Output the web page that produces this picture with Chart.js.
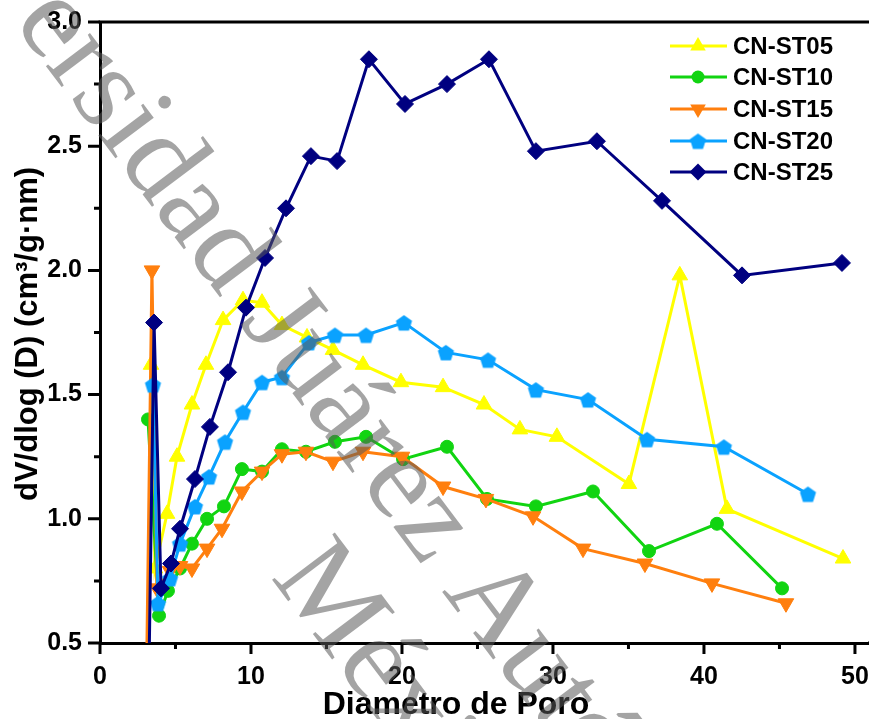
<!DOCTYPE html>
<html>
<head>
<meta charset="utf-8">
<script src="https://cdn.jsdelivr.net/npm/chart.js"></script>
<style>
    html, body { margin: 0; padding: 0; background: #fff; }
</style>
</head>
<body>
<canvas id="poreChart" width="869" height="719"></canvas>
<script>
// Data (pore diameter vs dV/dlog(D))
const seriesNames = ["CN-ST05", "CN-ST10", "CN-ST15", "CN-ST20", "CN-ST25"];
const seriesColors = ["#ffff00", "#11d411", "#ff7f0e", "#0aa2ff", "#000080"];

const st05X = [3.38, 3.64, 4.44, 5.10, 6.09, 7.02, 8.15, 9.47, 10.73, 12.05, 13.71, 15.43, 17.42, 19.93, 22.72, 25.43, 27.81, 30.26, 35.03, 38.40, 41.52, 49.21];
const st05Y = [1.62, 0.80, 1.02, 1.25, 1.46, 1.62, 1.80, 1.88, 1.87, 1.78, 1.73, 1.68, 1.62, 1.55, 1.53, 1.46, 1.36, 1.33, 1.14, 1.98, 1.04, 0.84];

const st10X = [3.18, 3.91, 4.50, 5.30, 6.09, 7.09, 8.21, 9.40, 10.73, 12.05, 13.64, 15.56, 17.62, 20.07, 22.98, 25.63, 28.87, 32.65, 36.36, 40.86, 45.17];
const st10Y = [1.40, 0.61, 0.71, 0.80, 0.90, 1.00, 1.05, 1.20, 1.19, 1.28, 1.27, 1.31, 1.33, 1.24, 1.29, 1.08, 1.05, 1.11, 0.87, 0.98, 0.72];

const st15X = [3.00, 3.44, 3.77, 4.64, 5.30, 6.09, 7.09, 8.08, 9.40, 10.73, 12.05, 13.64, 15.43, 17.42, 20.00, 22.72, 25.56, 28.68, 31.99, 36.09, 40.53, 45.43];
const st15Y = [0.00, 2.00, 0.72, 0.79, 0.81, 0.80, 0.88, 0.96, 1.11, 1.19, 1.26, 1.27, 1.23, 1.27, 1.25, 1.13, 1.08, 1.01, 0.88, 0.82, 0.74, 0.66];

const st20X = [3.51, 3.84, 4.64, 5.30, 6.29, 7.22, 8.28, 9.47, 10.73, 12.05, 13.84, 15.56, 17.62, 20.13, 22.91, 25.70, 28.87, 32.32, 36.23, 41.32, 46.89];
const st20Y = [1.54, 0.66, 0.76, 0.90, 1.05, 1.17, 1.31, 1.43, 1.55, 1.57, 1.71, 1.74, 1.74, 1.79, 1.67, 1.64, 1.52, 1.48, 1.32, 1.29, 1.10];

const st25X = [3.15, 3.58, 4.04, 4.70, 5.30, 6.29, 7.28, 8.48, 9.67, 10.93, 12.32, 13.97, 15.70, 17.81, 20.20, 22.98, 25.76, 28.87, 32.91, 37.22, 42.52, 49.14];
const st25Y = [0.00, 1.79, 0.72, 0.82, 0.96, 1.16, 1.37, 1.59, 1.85, 2.05, 2.25, 2.46, 2.44, 2.85, 2.67, 2.75, 2.85, 2.48, 2.52, 2.28, 1.98, 2.03];

// Axis ticks
const xTickValues = [0, 10, 20, 30, 40, 50];
const xMinorValues = [5, 15, 25, 35, 45];
const yTickValues = [0.5, 1.0, 1.5, 2.0, 2.5, 3.0];
const yMinorValues = [0.75, 1.25, 1.75, 2.25, 2.75];

const xTitle = "Diametro de Poro";
const yTitle = "dV/dlog (D) (cm³/g·nm)";
const watermarkLines = ["Universidad Juárez Autónoma de Tabasco", "México"];

const FONT = 'Arial, "Liberation Sans", sans-serif';

// pentagon marker (no built-in style for it)
function makePentagon(color, r) {
    const c = document.createElement("canvas");
    const size = Math.ceil(r * 2 + 2);
    c.width = size;
    c.height = size;
    const g = c.getContext("2d");
    g.fillStyle = color;
    g.beginPath();
    for (let i = 0; i < 5; i++) {
        const a = -Math.PI / 2 + i * 2 * Math.PI / 5;
        const px = size / 2 + r * Math.cos(a);
        const py = size / 2 + 1 + r * Math.sin(a);
        if (i === 0) g.moveTo(px, py); else g.lineTo(px, py);
    }
    g.closePath();
    g.fill();
    return c;
}

const pentagon = makePentagon(seriesColors[3], 8.5);

const markers = [
    { style: "triangle", rotation: 0, radius: 9 },
    { style: "circle", rotation: 0, radius: 6.5 },
    { style: "triangle", rotation: 180, radius: 9 },
    { style: pentagon, rotation: 0, radius: 8.5 },
    { style: "rectRot", rotation: 0, radius: 8.5 },
];

const allX = [st05X, st10X, st15X, st20X, st25X];
const allY = [st05Y, st10Y, st15Y, st20Y, st25Y];

const datasets = seriesNames.map((name, i) => ({
    label: name,
    data: allX[i].map((x, j) => ({ x: x, y: allY[i][j] })),
    borderColor: seriesColors[i],
    backgroundColor: seriesColors[i],
    borderWidth: 3,
    pointStyle: markers[i].style,
    pointRotation: markers[i].rotation,
    pointRadius: markers[i].radius,
    pointBorderWidth: 1,
    pointBorderColor: seriesColors[i],
    pointBackgroundColor: seriesColors[i],
    tension: 0,
    order: 5 - i, // later series on top
}));

// draw a legend marker by hand
function drawMarker(ctx, i, x, y) {
    const m = markers[i];
    ctx.fillStyle = seriesColors[i];
    ctx.beginPath();
    if (m.style === "circle") {
        ctx.arc(x, y, m.radius, 0, Math.PI * 2);
    } else if (m.style === "triangle") {
        const dir = m.rotation === 180 ? -1 : 1;
        for (let k = 0; k < 3; k++) {
            const a = k * 2 * Math.PI / 3;
            const px = x + Math.sin(a) * m.radius;
            const py = y - dir * Math.cos(a) * m.radius;
            if (k === 0) ctx.moveTo(px, py); else ctx.lineTo(px, py);
        }
    } else if (m.style === "rectRot") {
        ctx.moveTo(x, y - m.radius);
        ctx.lineTo(x + m.radius, y);
        ctx.lineTo(x, y + m.radius);
        ctx.lineTo(x - m.radius, y);
    } else {
        ctx.drawImage(m.style, x - m.style.width / 2, y - m.style.height / 2);
        return;
    }
    ctx.closePath();
    ctx.fill();
}

const decorations = {
    id: "decorations",
    afterDraw(chart) {
        const ctx = chart.ctx;
        const area = chart.chartArea;
        const xs = chart.scales.x;
        const ys = chart.scales.y;
        ctx.save();

        // top frame line, bottom axis runs to the edge
        ctx.strokeStyle = "#000";
        ctx.lineWidth = 3;
        ctx.beginPath();
        ctx.moveTo(area.left - 1.5, area.top);
        ctx.lineTo(chart.width, area.top);
        ctx.moveTo(area.right - 1, area.bottom);
        ctx.lineTo(chart.width, area.bottom);
        ctx.stroke();

        // tick marks
        ctx.beginPath();
        xTickValues.forEach(v => {
            const px = xs.getPixelForValue(v);
            ctx.moveTo(px, area.bottom);
            ctx.lineTo(px, area.bottom + 11);
        });
        xMinorValues.forEach(v => {
            const px = xs.getPixelForValue(v);
            ctx.moveTo(px, area.bottom);
            ctx.lineTo(px, area.bottom + 6);
        });
        yTickValues.forEach(v => {
            const py = ys.getPixelForValue(v);
            ctx.moveTo(area.left, py);
            ctx.lineTo(area.left - 12, py);
        });
        yMinorValues.forEach(v => {
            const py = ys.getPixelForValue(v);
            ctx.moveTo(area.left, py);
            ctx.lineTo(area.left - 6, py);
        });
        ctx.stroke();

        // axis titles
        ctx.fillStyle = "#000";
        ctx.font = "bold 32px " + FONT;
        ctx.textAlign = "center";
        ctx.textBaseline = "alphabetic";
        ctx.fillText(xTitle, 456, 714);

        ctx.save();
        ctx.translate(37, 334);
        ctx.rotate(-Math.PI / 2);
        ctx.font = "bold 31px " + FONT;
        ctx.fillText(yTitle, 0, 0);
        ctx.restore();

        // legend
        const rows = [46, 77, 109, 141, 172];
        ctx.font = "bold 24px " + FONT;
        ctx.textAlign = "left";
        ctx.textBaseline = "middle";
        seriesNames.forEach((name, i) => {
            ctx.strokeStyle = seriesColors[i];
            ctx.lineWidth = 3;
            ctx.beginPath();
            ctx.moveTo(670, rows[i]);
            ctx.lineTo(727, rows[i]);
            ctx.stroke();
            drawMarker(ctx, i, 698, rows[i]);
            ctx.fillStyle = "#000";
            ctx.fillText(name, 733, rows[i] + 1);
        });

        // watermark over everything
        ctx.fillStyle = "rgba(90, 90, 90, 0.55)";
        ctx.font = '120px "Liberation Serif", "Times New Roman", serif';
        ctx.textAlign = "left";
        ctx.textBaseline = "alphabetic";
        const ang = 53 * Math.PI / 180;
        ctx.save();
        ctx.translate(-132, -170);
        ctx.rotate(ang);
        ctx.fillText(watermarkLines[0], 0, 0);
        ctx.restore();
        ctx.save();
        ctx.translate(270, 577);
        ctx.rotate(ang);
        ctx.fillText(watermarkLines[1], 0, 0);
        ctx.restore();

        ctx.restore();
    }
};

const tickFont = { family: FONT, size: 25, weight: "bold" };

new Chart(document.getElementById("poreChart"), {
    type: "line",
    data: { datasets: datasets },
    plugins: [decorations],
    options: {
        responsive: false,
        animation: false,
        devicePixelRatio: 1,
        layout: { autoPadding: false, padding: { top: 22, right: 0, left: 0, bottom: 0 } },
        plugins: {
            legend: { display: false },
            tooltip: { enabled: false },
        },
        scales: {
            x: {
                type: "linear",
                min: 0,
                max: 50.93,
                afterBuildTicks: (s) => { s.ticks = xTickValues.map(v => ({ value: v })); },
                afterFit: (s) => { s.height = 76; s.paddingLeft = 0; s.paddingRight = 0; },
                // tick marks are drawn by the plugin; tickLength only spaces the labels
                grid: { display: false, drawTicks: true, tickLength: 19 },
                border: { display: true, color: "#000", width: 3 },
                ticks: {
                    color: "#000",
                    font: tickFont,
                    padding: 0,
                    maxRotation: 0,
                    autoSkip: false,
                    callback: (v) => String(v),
                },
            },
            y: {
                type: "linear",
                min: 0.5,
                max: 3.0,
                afterBuildTicks: (s) => { s.ticks = yTickValues.map(v => ({ value: v })); },
                afterFit: (s) => { s.width = 100; s.paddingTop = 0; s.paddingBottom = 0; },
                grid: { display: false, drawTicks: false },
                border: { display: true, color: "#000", width: 3 },
                ticks: {
                    color: "#000",
                    font: tickFont,
                    padding: 18,
                    autoSkip: false,
                    callback: (v) => v.toFixed(1),
                },
            },
        },
    },
});
</script>
</body>
</html>
